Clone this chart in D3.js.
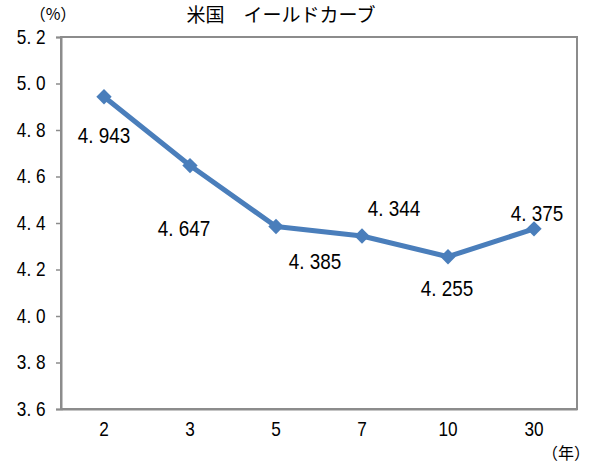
<!DOCTYPE html>
<html>
<head>
<meta charset="utf-8">
<script src="https://cdn.jsdelivr.net/npm/d3@7"></script>
<style>
  body { margin: 0; background: #fff; }
  text { font-family: "Liberation Sans", "Noto Sans CJK JP", sans-serif; fill: #000; }
  .jp { font-family: "Noto Sans CJK JP", sans-serif; }
</style>
</head>
<body>
<svg id="chart" width="592" height="464"></svg>
<script>
// maturities (years) and yields (%)
const categories = ["2", "3", "5", "7", "10", "30"];
const yields = [4.943, 4.647, 4.385, 4.344, 4.255, 4.375];
const yTicks = [3.6, 3.8, 4.0, 4.2, 4.4, 4.6, 4.8, 5.0, 5.2];

// label placement relative to each marker (manual, like the original)
const labelOffset = [[0, 38], [-6, 62], [39, 34], [32, -28], [-1, 31], [3, -16]];

const svg = d3.select("#chart");
const m = { left: 61, right: 577, top: 37, bottom: 409 };
const squeeze = "scale(0.86,1)";

const x = d3.scaleBand().domain(categories).range([m.left, m.right]);
const y = d3.scaleLinear().domain([3.6, 5.2]).range([m.bottom, m.top]);

// plot frame
svg.append("rect")
  .attr("x", m.left).attr("y", m.top)
  .attr("width", m.right - m.left).attr("height", m.bottom - m.top)
  .attr("fill", "none").attr("stroke", "#8c8c8c").attr("stroke-width", 2);

// y axis
const yAxis = svg.append("g")
  .attr("transform", `translate(${m.left},0)`)
  .call(d3.axisLeft(y).tickValues(yTicks).tickSize(5).tickPadding(13)
    .tickFormat(d => d3.format(".1f")(d).replace(".", ". ")));
yAxis.select(".domain").attr("stroke", "#8c8c8c").attr("stroke-width", 2);
yAxis.selectAll(".tick line").attr("stroke", "#8c8c8c").attr("stroke-width", 1.5);
yAxis.selectAll(".tick text").attr("font-size", 20)
  .attr("transform", squeeze)
  .style("font-family", '"Liberation Sans", sans-serif');

// x axis
const xAxis = svg.append("g")
  .attr("transform", `translate(0,${m.bottom})`)
  .call(d3.axisBottom(x).tickSize(0).tickPadding(13));
xAxis.select(".domain").attr("stroke", "#8c8c8c").attr("stroke-width", 2);
xAxis.selectAll(".tick text").attr("font-size", 20)
  .attr("transform", squeeze)
  .style("font-family", '"Liberation Sans", sans-serif');

const pts = categories.map((c, i) => ({ c, v: yields[i], i }));
const cx = d => x(d.c) + x.bandwidth() / 2;

svg.append("path")
  .datum(pts)
  .attr("fill", "none")
  .attr("stroke", "#4a7ebb")
  .attr("stroke-width", 5)
  .attr("stroke-linejoin", "round")
  .attr("d", d3.line().x(cx).y(d => y(d.v)));

svg.selectAll(".mk")
  .data(pts)
  .enter().append("path")
  .attr("class", "mk")
  .attr("fill", "#4a7ebb")
  .attr("transform", d => `translate(${cx(d)},${y(d.v)})`)
  .attr("d", d3.symbol().type(d3.symbolDiamond2).size(150));

svg.selectAll(".lbl")
  .data(pts)
  .enter().append("text")
  .attr("class", "lbl")
  .attr("transform", d => `translate(${cx(d) + labelOffset[d.i][0]},${y(d.v) + labelOffset[d.i][1]}) ${squeeze}`)
  .attr("text-anchor", "middle")
  .attr("dominant-baseline", "central")
  .attr("font-size", 22)
  .text(d => d3.format(".3f")(d.v).replace(".", ". "));

svg.append("text").attr("class", "jp")
  .attr("x", 281).attr("y", 22).attr("text-anchor", "middle")
  .attr("font-size", 19).text("米国　イールドカーブ");
svg.append("text").attr("class", "jp")
  .attr("x", 53).attr("y", 20).attr("text-anchor", "middle")
  .attr("font-size", 16).text("（%）");
svg.append("text").attr("class", "jp")
  .attr("x", 566).attr("y", 459).attr("text-anchor", "middle")
  .attr("font-size", 16).text("（年）");
</script>
</body>
</html>
